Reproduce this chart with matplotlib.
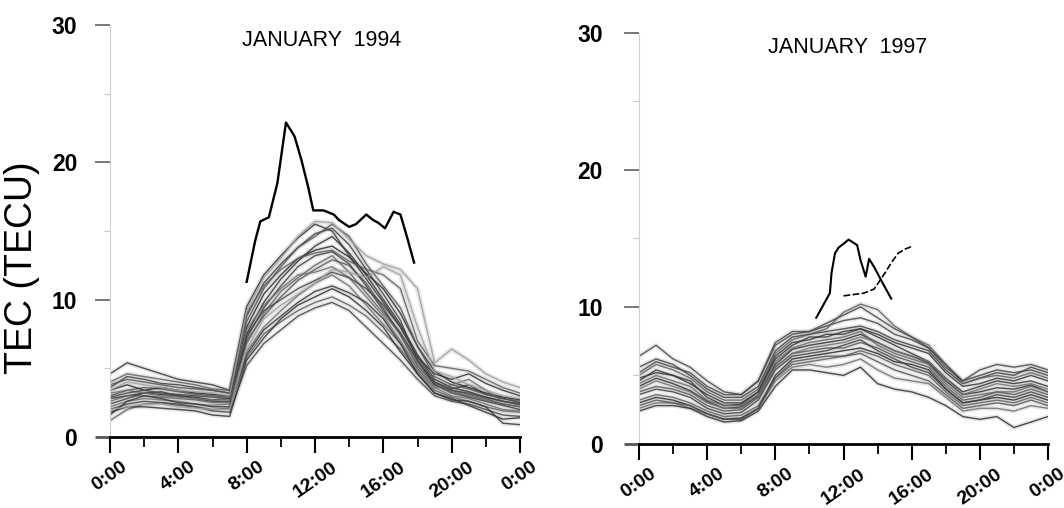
import numpy as np
import matplotlib
matplotlib.use("Agg")
import matplotlib.pyplot as plt
from matplotlib.ticker import FixedLocator

plt.rcParams['font.family'] = ['Liberation Sans', 'DejaVu Sans']

# ---------------- data ----------------
hours = [0, 1, 2, 3, 4, 5, 6, 7, 8, 9, 10, 11, 12, 13, 14, 15, 16, 17, 18, 19, 20, 21, 22, 23, 24]

# January 1994: daily TEC curves (TECU), hourly
jan94_d01 = [2.8, 3.0, 3.2, 3.1, 3.0, 2.9, 2.7, 2.8, 7.5, 9.8, 11.5, 12.8, 13.9, 14.6, 13.4, 11.8, 10.0, 8.2, 6.0, 4.2, 3.6, 3.3, 2.9, 2.6, 2.4]
jan94_d02 = [1.2, 2.0, 2.4, 2.5, 2.3, 2.2, 2.0, 2.1, 5.8, 7.5, 8.4, 9.2, 9.8, 10.2, 9.6, 8.8, 7.6, 6.4, 4.8, 3.4, 2.9, 2.6, 2.2, 1.9, 1.8]
jan94_d03 = [3.6, 4.4, 4.2, 3.9, 3.8, 3.6, 3.4, 3.2, 8.8, 11.2, 12.6, 13.8, 14.8, 15.2, 14.0, 12.2, 10.4, 8.5, 5.5, 4.0, 3.5, 3.8, 3.1, 2.8, 2.5]
jan94_d04 = [2.2, 2.6, 2.8, 2.7, 2.6, 2.4, 2.3, 2.4, 6.2, 8.0, 9.2, 10.3, 11.2, 11.8, 11.0, 9.6, 8.2, 6.8, 5.0, 3.6, 3.0, 2.8, 2.4, 2.0, 1.9]
jan94_d05 = [4.6, 5.4, 5.0, 4.6, 4.2, 4.0, 3.8, 3.4, 9.5, 11.8, 13.2, 14.5, 15.5, 15.0, 13.2, 11.5, 9.8, 8.0, 5.8, 4.6, 4.2, 4.6, 3.9, 3.4, 3.0]
jan94_d06 = [3.0, 3.4, 3.6, 3.5, 3.3, 3.1, 3.0, 2.9, 7.0, 8.8, 10.2, 11.4, 12.2, 12.9, 12.5, 11.2, 9.4, 7.4, 5.2, 3.8, 3.4, 3.1, 2.8, 2.4, 2.2]
jan94_d07 = [2.0, 2.4, 2.6, 2.5, 2.4, 2.2, 1.9, 1.8, 5.2, 6.8, 7.8, 8.8, 9.4, 9.8, 9.2, 8.0, 6.8, 5.6, 4.2, 3.0, 2.6, 2.4, 2.0, 1.6, 1.5]
jan94_d08 = [3.4, 3.8, 3.4, 3.6, 3.4, 3.2, 3.1, 3.0, 8.0, 10.4, 11.8, 13.0, 13.6, 13.9, 13.1, 11.9, 10.8, 9.0, 6.6, 4.8, 4.0, 3.6, 3.2, 2.9, 2.7]
jan94_d09 = [2.6, 3.0, 3.0, 2.9, 2.8, 2.7, 2.5, 2.5, 6.8, 9.0, 10.6, 11.6, 12.5, 13.2, 12.0, 10.5, 9.0, 7.5, 5.4, 3.9, 3.3, 3.0, 2.7, 2.4, 2.2]
jan94_d10 = [1.8, 2.2, 2.2, 2.1, 2.0, 1.9, 1.6, 1.5, 5.6, 7.2, 8.6, 9.6, 10.2, 10.8, 10.2, 9.2, 8.0, 6.2, 4.6, 3.2, 2.8, 2.3, 1.8, 1.3, 1.4]
jan94_d11 = [4.0, 4.6, 4.4, 4.2, 4.0, 3.8, 3.5, 3.4, 9.0, 11.0, 12.2, 13.0, 13.4, 13.6, 12.8, 12.2, 11.8, 10.8, 7.0, 5.2, 5.0, 4.8, 4.2, 3.6, 3.2]
jan94_d12 = [2.4, 2.8, 3.2, 3.3, 3.0, 2.8, 2.6, 2.6, 7.2, 9.4, 11.0, 12.4, 13.2, 13.5, 12.6, 11.0, 9.2, 7.6, 5.6, 3.8, 3.2, 2.9, 2.6, 2.3, 2.0]
jan94_d13 = [3.2, 3.4, 3.2, 3.0, 2.9, 2.8, 2.7, 2.7, 7.8, 9.6, 10.8, 11.8, 12.0, 12.4, 11.6, 10.2, 8.8, 7.0, 5.0, 3.6, 3.8, 4.2, 3.4, 2.6, 2.3]
jan94_d14 = [1.6, 2.6, 3.0, 2.8, 2.5, 2.4, 2.2, 2.2, 6.0, 7.8, 8.8, 9.8, 10.6, 11.0, 10.5, 9.8, 8.6, 6.8, 4.6, 3.2, 2.7, 2.6, 2.2, 1.0, 0.9]
jan94_d15 = [3.8, 4.2, 4.0, 3.8, 3.6, 3.5, 3.4, 3.2, 8.4, 10.8, 12.4, 13.8, 14.6, 15.5, 14.6, 12.6, 11.0, 9.4, 6.6, 4.4, 3.8, 3.5, 3.1, 2.8, 2.6]
jan94_d16 = [2.9, 3.2, 3.4, 3.2, 3.1, 3.0, 2.9, 2.8, 7.4, 9.2, 10.0, 10.8, 11.4, 12.0, 11.6, 10.8, 9.6, 8.0, 5.8, 4.0, 3.4, 3.2, 2.9, 2.6, 2.4]
jan94_d17 = [3.4, 4.0, 3.8, 3.6, 3.4, 3.3, 3.2, 3.0, 9.2, 11.6, 13.0, 14.6, 15.7, 15.6, 14.4, 13.2, 12.6, 12.2, 10.8, 5.4, 6.4, 5.6, 4.6, 4.0, 3.6]
jan94_d18 = [2.0, 2.2, 2.4, 2.4, 2.2, 2.1, 2.0, 2.0, 6.4, 8.6, 9.6, 10.4, 11.2, 12.2, 12.0, 11.6, 12.4, 11.8, 8.0, 4.8, 4.4, 3.8, 3.4, 3.0, 2.8]
jan94_days = [jan94_d01, jan94_d02, jan94_d03, jan94_d04, jan94_d05, jan94_d06, jan94_d07, jan94_d08, jan94_d09,
              jan94_d10, jan94_d11, jan94_d12, jan94_d13, jan94_d14, jan94_d15, jan94_d16, jan94_d17, jan94_d18]

# January 1994 storm day
storm94_hours = [8.0, 8.5, 8.8, 9.3, 9.8, 10.3, 10.8, 11.2, 11.6, 11.9, 12.5, 13.1, 13.4, 14.0, 14.4, 15.0, 15.4, 15.7, 16.1, 16.6, 17.0, 17.4, 17.8]
storm94_tec = [11.3, 14.3, 15.7, 16.0, 18.5, 22.9, 21.9, 20.2, 18.2, 16.5, 16.5, 16.2, 15.8, 15.3, 15.5, 16.2, 15.8, 15.6, 15.2, 16.4, 16.2, 14.5, 12.7]

# January 1997: daily TEC curves (TECU), hourly
jan97_d01 = [4.2, 4.8, 4.4, 3.9, 3.1, 2.6, 2.7, 3.5, 5.8, 6.9, 7.2, 7.4, 7.6, 8.0, 7.4, 6.8, 6.4, 5.9, 4.6, 3.6, 3.8, 4.1, 4.0, 4.3, 3.8]
jan97_d02 = [3.2, 3.6, 3.4, 3.0, 2.4, 2.0, 2.1, 2.8, 4.8, 5.8, 6.0, 6.2, 6.4, 6.8, 6.4, 5.8, 5.4, 5.0, 3.8, 2.8, 3.0, 3.2, 3.0, 3.4, 3.0]
jan97_d03 = [5.6, 6.2, 5.8, 5.0, 4.0, 3.4, 3.4, 4.2, 6.8, 7.8, 8.0, 8.2, 8.4, 8.6, 8.2, 7.6, 7.2, 6.8, 5.4, 4.4, 4.8, 5.2, 5.0, 5.6, 5.2]
jan97_d04 = [2.6, 3.0, 3.0, 2.6, 2.2, 1.8, 1.8, 2.6, 4.6, 5.6, 5.8, 5.6, 5.8, 6.2, 5.4, 4.8, 4.6, 4.4, 3.4, 2.4, 2.6, 2.6, 2.4, 2.8, 2.6]
jan97_d05 = [4.6, 5.4, 5.0, 4.6, 3.4, 2.8, 2.9, 3.8, 6.2, 7.2, 7.8, 7.8, 8.2, 8.4, 7.8, 7.2, 6.6, 6.0, 4.8, 3.8, 4.2, 4.6, 4.4, 4.6, 4.2]
jan97_d06 = [3.8, 4.2, 4.0, 3.6, 2.8, 2.4, 2.5, 3.4, 5.6, 6.6, 6.8, 7.0, 7.0, 7.4, 7.0, 6.4, 6.0, 5.6, 4.2, 3.2, 3.4, 3.8, 3.6, 4.0, 3.6]
jan97_d07 = [6.4, 7.2, 6.2, 5.6, 4.6, 3.8, 3.6, 4.6, 7.2, 8.0, 8.2, 8.6, 9.0, 9.2, 8.8, 8.0, 7.6, 7.0, 5.6, 4.6, 5.4, 5.8, 5.6, 5.8, 5.4]
jan97_d08 = [3.0, 3.4, 3.2, 2.8, 2.2, 1.8, 1.9, 2.6, 5.0, 6.2, 6.4, 6.6, 6.8, 7.0, 6.6, 6.0, 5.8, 5.4, 4.0, 3.0, 3.2, 3.4, 3.2, 3.6, 3.2]
jan97_d09 = [4.4, 5.0, 4.6, 4.2, 3.2, 2.8, 2.8, 3.6, 6.0, 7.0, 7.4, 7.6, 7.8, 8.2, 7.2, 6.6, 6.2, 5.8, 4.4, 3.4, 3.6, 3.8, 3.8, 4.2, 3.8]
jan97_d10 = [2.4, 2.8, 2.8, 2.6, 2.0, 1.6, 1.7, 2.4, 4.2, 5.4, 5.4, 5.2, 5.0, 5.6, 4.4, 4.0, 3.8, 3.4, 2.8, 2.0, 1.8, 2.0, 1.2, 1.6, 2.0]
jan97_d11 = [5.0, 5.8, 5.4, 4.8, 3.8, 3.2, 3.2, 4.0, 6.6, 7.6, 8.0, 8.4, 9.6, 10.2, 9.8, 8.6, 7.8, 7.2, 5.8, 4.4, 4.8, 5.0, 4.8, 5.2, 4.8]
jan97_d12 = [3.6, 4.0, 3.8, 3.4, 2.6, 2.2, 2.3, 3.2, 5.4, 6.4, 6.6, 6.8, 7.2, 7.6, 6.8, 6.2, 5.6, 5.2, 4.0, 3.0, 3.2, 3.6, 3.4, 3.8, 3.4]
jan97_d13 = [4.0, 4.6, 4.2, 3.8, 3.0, 2.6, 2.6, 3.4, 5.6, 6.6, 7.0, 7.2, 7.4, 7.8, 7.4, 6.8, 6.4, 6.0, 4.8, 3.6, 4.0, 4.4, 4.2, 4.4, 4.0]
jan97_d14 = [4.8, 5.2, 5.0, 4.4, 3.6, 3.0, 3.0, 3.8, 6.4, 7.4, 7.6, 8.0, 8.0, 8.4, 8.0, 7.4, 7.0, 6.6, 5.2, 4.2, 4.4, 4.8, 4.6, 5.0, 4.6]
jan97_d15 = [2.8, 3.2, 3.0, 2.8, 2.2, 1.8, 1.8, 2.6, 4.8, 6.0, 6.2, 6.4, 6.4, 6.6, 6.0, 5.4, 5.0, 4.6, 3.6, 2.6, 2.8, 3.0, 2.8, 3.2, 2.8]
jan97_d16 = [5.2, 6.0, 5.6, 5.2, 4.2, 3.6, 3.6, 4.6, 7.4, 8.2, 8.2, 8.8, 9.4, 10.0, 9.2, 8.4, 7.8, 7.0, 5.8, 4.6, 5.0, 5.4, 5.2, 5.4, 5.0]
jan97_days = [jan97_d01, jan97_d02, jan97_d03, jan97_d04, jan97_d05, jan97_d06, jan97_d07, jan97_d08,
              jan97_d09, jan97_d10, jan97_d11, jan97_d12, jan97_d13, jan97_d14, jan97_d15, jan97_d16]

# January 1997 storm-day segments
storm97a_hours = [10.4, 10.8, 11.2, 11.3, 11.5, 11.7, 12.3, 12.8, 13.0, 13.3, 13.5, 13.8, 14.1, 14.4, 14.8]
storm97a_tec = [9.2, 10.1, 11.0, 12.5, 13.9, 14.3, 14.9, 14.5, 13.4, 12.2, 13.5, 12.9, 12.2, 11.5, 10.6]
storm97b_hours = [12.0, 12.6, 13.2, 13.8, 14.4, 14.8, 15.2, 15.6, 16.0]
storm97b_tec = [10.8, 10.9, 11.0, 11.3, 12.4, 13.2, 13.9, 14.2, 14.4]

xtick_pos = [0, 4, 8, 12, 16, 20, 24]
xtick_labels = ["0:00", "4:00", "8:00", "12:00", "16:00", "20:00", "0:00"]
xminor_pos = [2, 6, 10, 14, 18, 22]
ytick_pos = [0, 10, 20, 30]
ytick_labels = ["0", "10", "20", "30"]
yminor_pos = [5, 15, 25]

titles = ["JANUARY  1994", "JANUARY  1997"]

# ---------------- figure ----------------
fig = plt.figure(figsize=(10.64, 5.08), dpi=100)
ax1 = fig.add_axes([110 / 1064, 71 / 508, 410 / 1064, 412 / 508])
ax2 = fig.add_axes([639 / 1064, 64 / 508, 409 / 1064, 411.5 / 508])

line_grays = ['#303030', '#606060', '#404040', '#707070', '#353535', '#555555', '#454545', '#2a2a2a', '#656565']


def draw_days(ax, days, light_last=0):
    n = len(days)
    for i, d in enumerate(days):
        is_light = i >= n - light_last
        ax.plot(hours, d, color='#bdbdbd', lw=3.4, alpha=0.35, solid_capstyle='round', zorder=1)
        ax.plot(hours, d, color='#a0a0a0' if is_light else line_grays[i % len(line_grays)],
                lw=1.0, alpha=0.85, zorder=2)


def style_axis(ax, title, title_pos, ylab_pad):
    ax.set_xlim(0, 24)
    ax.set_ylim(0, 30)
    for s in ['top', 'right']:
        ax.spines[s].set_visible(False)
    ax.spines['bottom'].set_color('black')
    ax.spines['bottom'].set_linewidth(2.0)
    ax.spines['left'].set_color('#cfcfcf')
    ax.spines['left'].set_linewidth(0.8)
    ax.set_xticks(xtick_pos)
    ax.set_xticklabels(xtick_labels, rotation=35, ha='center', va='top',
                       fontsize=14, fontweight='bold')
    ax.xaxis.set_minor_locator(FixedLocator(xminor_pos))
    ax.tick_params(axis='x', which='major', direction='out', length=11.5, width=1.5,
                   color='black', pad=4)
    ax.tick_params(axis='x', which='minor', direction='out', length=7, width=1.3, color='black')
    ax.set_yticks(ytick_pos)
    ax.set_yticklabels(ytick_labels, fontsize=16.5, fontweight='bold')
    ax.yaxis.set_minor_locator(FixedLocator(yminor_pos))
    ax.tick_params(axis='y', which='major', direction='out', length=10.5, width=1.1,
                   color='#555555', pad=ylab_pad)
    ax.tick_params(axis='y', which='minor', direction='out', length=4, width=0.8, color='#c8c8c8')
    t0 = ax.yaxis.get_major_ticks()[0]
    t0.tick1line.set_color('black')
    t0.tick1line.set_markeredgewidth(2.0)
    ax.text(title_pos[0], title_pos[1], title, transform=ax.transAxes, ha='center', va='center',
            fontsize=15.5)


draw_days(ax1, jan94_days, light_last=2)
ax1.plot(storm94_hours, storm94_tec, color='black', lw=1.7, zorder=4)
style_axis(ax1, titles[0], (0.516, 0.962), 13)

draw_days(ax2, jan97_days, light_last=0)
ax2.plot(storm97a_hours, storm97a_tec, color='black', lw=1.5, zorder=4)
ax2.plot(storm97b_hours, storm97b_tec, color='black', lw=1.2, ls=(0, (4, 1.5)), zorder=4)
style_axis(ax2, titles[1], (0.509, 0.963), 15.5)

fig.text(22.5 / 1064, 1 - 268 / 508, 'TEC (TECU)', rotation=90, ha='center', va='center',
         fontsize=27)

fig.savefig('out.png', dpi=100, facecolor='white')
